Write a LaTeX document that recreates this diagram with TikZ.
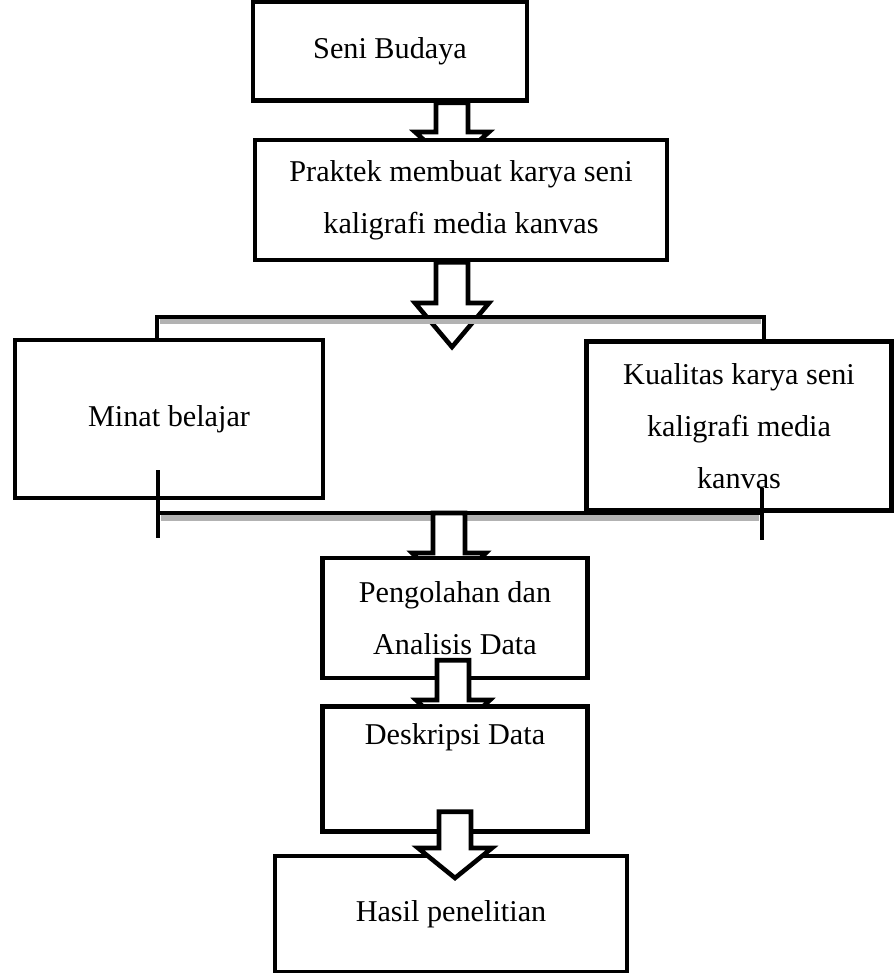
\documentclass[tikz,border=0pt]{standalone}
\usepackage{fontspec}
\setmainfont{Liberation Serif}
\usetikzlibrary{calc}

\tikzset{
  box/.style={rectangle, draw, line width=2.6pt, fill=white, align=center, font=\fontsize{17.2}{29.6}\selectfont},
  fatarrow/.style={draw, line width=2.6pt, fill=white, line join=miter},
  barline/.style={line width=2.4pt},
  hatch/.style={fill=black!30}
}
\newcommand{\fatarrow}[4]{%
  \draw[fatarrow] (#1-16,0 |- #2) -- (#1-16,#3) -- (#1-37,#3) -- (#1,#4) -- (#1+37,#3) -- (#1+16,#3) -- (#1+16,0 |- #2) -- cycle;}

\begin{document}
\begin{tikzpicture}[x=0.02cm, y=-0.02cm]
    \useasboundingbox (0,0) rectangle (894,973);
    \node[box, minimum width=5.48cm, minimum height=1.98cm] (seni) at (390,51) {Seni Budaya};
    \fatarrow{452}{seni.south}{132}{165}
    \node[box, minimum width=8.24cm, minimum height=2.4cm] (praktek) at (461,200) {Praktek membuat karya seni\\kaligrafi media kanvas};
    \fatarrow{452}{praktek.south}{303}{347}
    \node[box, minimum width=6.16cm, minimum height=3.16cm] (minat) at (169,419) {Minat belajar};
    \node[box, minimum width=6.1cm, minimum height=3.38cm] (kualitas) at (739,426) {Kualitas karya seni\\kaligrafi media\\kanvas};
    \coordinate (topL) at (157,317);
    \coordinate (topR) at (764,317);
    \draw[barline] (topL |- minat.north) -- (topL) -- (topR) -- (topR |- kualitas.north);
    \fill[hatch] ($(topL)+(3,1.5)$) rectangle ($(topR)+(-3,6.5)$);
    \coordinate (botL) at (158,513);
    \coordinate (botR) at (762,513);
    \draw[barline] (botL) -- (botR);
    \fill[hatch] ($(botL)+(3,2)$) rectangle ($(botR)+(-3,7.5)$);
    \draw[barline] ($(botL)+(0,-43)$) -- ($(botL)+(0,25)$);
    \draw[barline] ($(botR)+(0,-25)$) -- ($(botR)+(0,27)$);
    \fatarrow{449}{botL}{553}{590}
    \node[box, minimum width=5.3cm, minimum height=2.4cm] (pengolahan) at (455,618) {Pengolahan dan\\Analisis Data};
    \coordinate (p4) at ($(pengolahan.south)+(0,-20)$);
    \fatarrow{453}{p4}{700}{735}
    \node[box, minimum width=5.3cm, minimum height=2.5cm, text height=0.42cm, text depth=1.4cm] (deskripsi) at (455,769) {Deskripsi Data};
    \node[box, minimum width=7.04cm, minimum height=2.32cm] (hasil) at (451,914) {Hasil penelitian};
    \coordinate (d5) at ($(deskripsi.south)+(0,-22)$);
    \fatarrow{455}{d5}{848}{878}
\end{tikzpicture}
\end{document}
